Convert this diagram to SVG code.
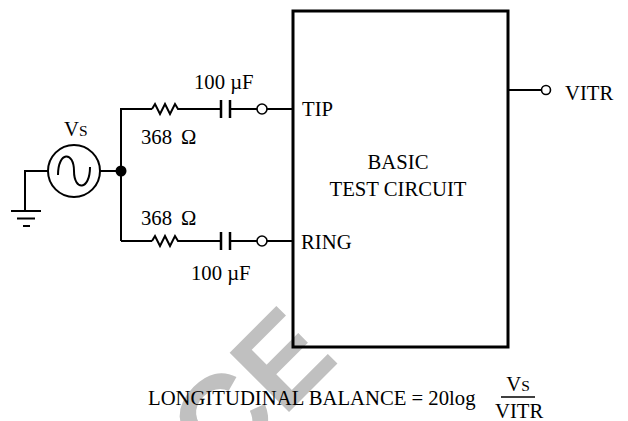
<svg xmlns="http://www.w3.org/2000/svg" width="628" height="421" viewBox="0 0 628 421">
<style>
.w{fill:none;stroke:#000;stroke-width:2;stroke-linejoin:miter}
.plate{fill:none;stroke:#000;stroke-width:2.5}
.term{fill:#fff;stroke:#000;stroke-width:1.6}
.t{font-family:"Liberation Serif","Times New Roman",serif;font-size:20.7px;fill:#000}
.sc{font-size:15.5px}
.wm{font-family:"Liberation Sans",Arial,sans-serif;font-weight:bold;font-size:122px;fill:#c0c0c0}
</style>
<g id="watermark">
<text class="wm" transform="translate(221,480) rotate(-45)">CE</text>
</g>
<g id="connectors">
<path class="w" d="M121 241 V109 H152"/>
<path class="w" d="M180 109 H221"/>
<path class="w" d="M230 109 H257"/>
<path class="w" d="M267 109 H293"/>
<path class="w" d="M121 241 H152"/>
<path class="w" d="M180 241 H221"/>
<path class="w" d="M230 241 H257"/>
<path class="w" d="M267 241 H293"/>
<path class="w" d="M100 171 H121"/>
<path class="w" d="M48 171 H25 V211"/>
<path class="w" d="M508 90 H541"/>
</g>
<g id="source">
<circle cx="74" cy="171" r="26" class="w"/>
<path class="w" d="M58 175 C58 151 74 151 74 171 C74 191 90 191 90 167" stroke-width="1.6"/>
<text class="t" x="64" y="136">V<tspan class="sc">S</tspan></text>
</g>
<g id="ground">
<path class="w" d="M11 211 H41 M17 218.5 H35 M23 226 H30"/>
</g>
<g id="junction">
<circle cx="121" cy="171" r="5.5" fill="#000"/>
</g>
<g id="tip-branch">
<path class="w" stroke-width="1.6" d="M152 109 L155 104 L160 114 L165 104 L170 114 L175 104 L178 109 H180"/>
<path class="plate" d="M221 100 V118 M230 100 V118"/>
<circle class="term" cx="262" cy="109" r="5"/>
<text class="t" x="194" y="89">100 µF</text>
<text class="t" x="141" y="144">368</text>
<text class="t" x="181" y="144">Ω</text>
</g>
<g id="ring-branch">
<path class="w" stroke-width="1.6" d="M152 241 L155 236 L160 246 L165 236 L170 246 L175 236 L178 241 H180"/>
<path class="plate" d="M221 232 V250 M230 232 V250"/>
<circle class="term" cx="262" cy="241" r="5"/>
<text class="t" x="141" y="225">368</text>
<text class="t" x="181" y="225">Ω</text>
<text class="t" x="191" y="280">100 µF</text>
</g>
<g id="test-circuit">
<rect x="293" y="11" width="215" height="336" fill="none" stroke="#000" stroke-width="3"/>
<text class="t" x="302" y="116">TIP</text>
<text class="t" x="301" y="249">RING</text>
<text class="t" x="398" y="169" text-anchor="middle">BASIC</text>
<text class="t" x="398" y="196" text-anchor="middle">TEST CIRCUIT</text>
</g>
<g id="vitr">
<circle class="term" cx="546" cy="90" r="4.5"/>
<text class="t" x="565" y="100">VITR</text>
</g>
<g id="equation">
<text class="t" x="148" y="405">LONGITUDINAL BALANCE = 20log</text>
<text class="t" x="518" y="391" text-anchor="middle">V<tspan class="sc">S</tspan></text>
<path d="M501 397 H535" stroke="#000" stroke-width="1.5"/>
<text class="t" x="495" y="418">VITR</text>
</g>
</svg>
